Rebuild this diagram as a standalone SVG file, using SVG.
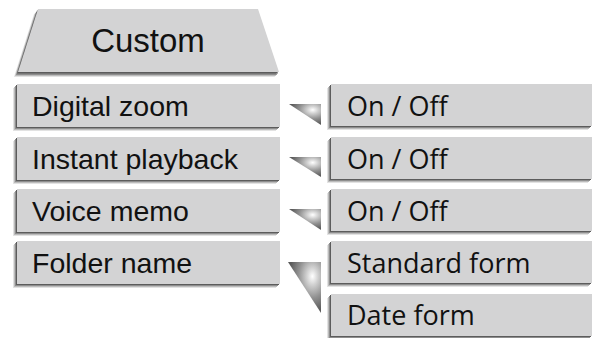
<svg xmlns="http://www.w3.org/2000/svg" xmlns:xlink="http://www.w3.org/1999/xlink" width="596" height="338" viewBox="0 0 596 338">
  <style>
    .face { fill: #d3d3d4; }
    .s1 { fill: #e2e2e2; }
    .s2 { fill: #bcbcbc; }
    .s3 { fill: #8e8e8e; }
    .s4 { fill: #5c5c5c; }
    .lt { font-family: "Liberation Sans", Arial, sans-serif; font-size: 28.5px; fill: #111; }
    .rt { font-family: "Open Sans", "Noto Sans", sans-serif; font-size: 27px; fill: #111; }
    .ct { font-family: "Liberation Sans", Arial, sans-serif; font-size: 33px; fill: #111; }
    .tri { fill: url(#metal); }
  </style>
  <defs>
    <radialGradient id="metal" cx="0.74" cy="0.28" r="0.7" fx="0.74" fy="0.28">
      <stop offset="0" stop-color="#ffffff"/>
      <stop offset="0.25" stop-color="#d0d0d0"/>
      <stop offset="0.6" stop-color="#929292"/>
      <stop offset="1" stop-color="#5a5a5a"/>
    </radialGradient>
    <g id="boxL">
      <rect class="s1" x="-4" y="4" width="263" height="43"/>
      <rect class="s2" x="-3" y="3" width="263" height="43"/>
      <rect class="s3" x="-2" y="2" width="263" height="43"/>
      <rect class="s4" x="-1" y="1" width="263" height="43"/>
      <rect class="face" x="0" y="0" width="263" height="43"/>
    </g>
    <g id="boxR">
      <rect class="s1" x="-4" y="4" width="261" height="42"/>
      <rect class="s2" x="-3" y="3" width="261" height="42"/>
      <rect class="s3" x="-2" y="2" width="261" height="42"/>
      <rect class="s4" x="-1" y="1" width="261" height="42"/>
      <rect class="face" x="0" y="0" width="261" height="42"/>
    </g>
    <polygon id="trap" points="38,9 258,9 279,72 18,72"/>
  </defs>

  <g id="custom">
    <use xlink:href="#trap" class="s1" x="-4" y="5"/>
    <use xlink:href="#trap" class="s2" x="-3" y="4"/>
    <use xlink:href="#trap" class="s3" x="-2" y="3"/>
    <use xlink:href="#trap" class="s4" x="-1" y="1.5"/>
    <use xlink:href="#trap" class="face"/>
    <text class="ct" x="148" y="52" text-anchor="middle">Custom</text>
  </g>

  <g id="digital-zoom">
    <use xlink:href="#boxL" x="17" y="84"/>
    <text class="lt" x="32" y="116">Digital zoom</text>
  </g>
  <g id="instant-playback">
    <use xlink:href="#boxL" x="17" y="137"/>
    <text class="lt" x="32" y="169">Instant playback</text>
  </g>
  <g id="voice-memo">
    <use xlink:href="#boxL" x="17" y="189"/>
    <text class="lt" x="32" y="221">Voice memo</text>
  </g>
  <g id="folder-name">
    <use xlink:href="#boxL" x="17" y="241"/>
    <text class="lt" x="32" y="273">Folder name</text>
  </g>

  <g id="dz-onoff">
    <use xlink:href="#boxR" x="331" y="84"/>
    <text class="rt" x="347" y="116">On / Off</text>
  </g>
  <g id="ip-onoff">
    <use xlink:href="#boxR" x="331" y="137"/>
    <text class="rt" x="347" y="169">On / Off</text>
  </g>
  <g id="vm-onoff">
    <use xlink:href="#boxR" x="331" y="189"/>
    <text class="rt" x="347" y="221">On / Off</text>
  </g>
  <g id="standard-form">
    <use xlink:href="#boxR" x="331" y="241"/>
    <text class="rt" x="347" y="273">Standard form</text>
  </g>
  <g id="date-form">
    <use xlink:href="#boxR" x="331" y="294"/>
    <text class="rt" x="347" y="325">Date form</text>
  </g>

  <g id="connectors">
    <polygon class="tri" points="289,104 321,104 321,125"/>
    <polygon class="tri" points="289,157 321,157 321,177"/>
    <polygon class="tri" points="289,209 321,209 321,230"/>
    <polygon class="tri" points="288,262 321,262 321,313"/>
  </g>
</svg>
